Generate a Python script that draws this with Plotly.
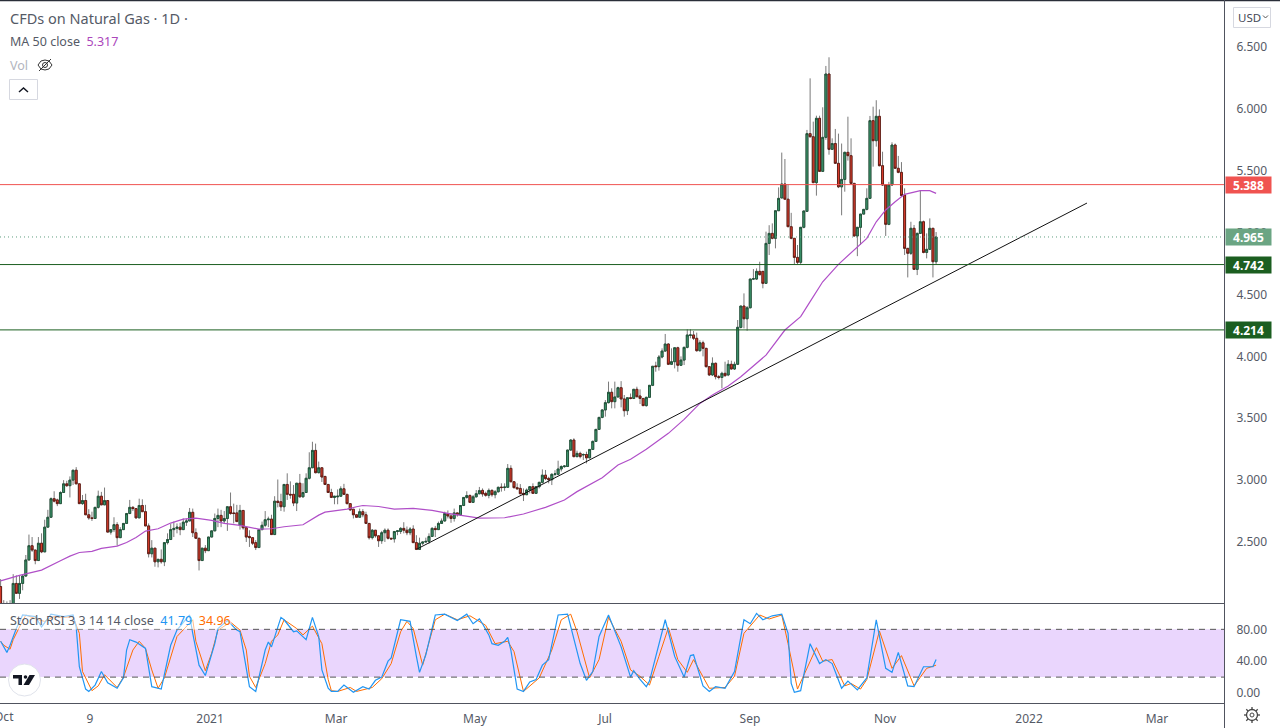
import plotly.graph_objects as go

# ---- daily candles (USD) ----
opens = [2.14,1.96,1.98,1.97,1.95,2.165,2.085,2.165,2.225,2.355,
 2.47,2.435,2.35,2.49,2.42,2.62,2.70,2.85,2.84,2.81,
 2.90,2.97,2.955,3.0,3.08,2.97,2.81,2.835,2.72,2.695,
 2.69,2.78,2.87,2.80,2.835,2.58,2.60,2.64,2.535,2.60,
 2.65,2.73,2.78,2.77,2.695,2.795,2.745,2.63,2.405,2.45,
 2.34,2.36,2.34,2.495,2.52,2.60,2.61,2.62,2.60,2.66,
 2.67,2.74,2.575,2.53,2.35,2.45,2.43,2.54,2.59,2.69,
 2.715,2.67,2.69,2.785,2.735,2.735,2.635,2.755,2.615,2.545,
 2.535,2.495,2.455,2.60,2.635,2.68,2.685,2.56,2.83,2.825,
 2.785,2.965,2.885,2.885,2.815,2.975,2.865,2.90,3.015,3.10,
 3.24,3.06,3.10,3.03,2.965,2.90,2.86,2.865,2.87,2.93,
 2.885,2.81,2.765,2.72,2.70,2.745,2.72,2.65,2.535,2.595,
 2.55,2.51,2.575,2.595,2.53,2.525,2.585,2.585,2.61,2.595,
 2.575,2.605,2.495,2.44,2.49,2.50,2.505,2.545,2.61,2.60,
 2.65,2.67,2.73,2.71,2.69,2.735,2.72,2.795,2.86,2.875,
 2.82,2.865,2.89,2.917,2.893,2.877,2.917,2.882,2.906,2.944,
 2.94,2.942,3.095,2.987,2.939,2.933,2.893,2.882,2.92,2.947,
 2.893,2.947,2.982,3.04,3.014,3.003,3.047,3.047,3.09,3.109,
 3.11,3.243,3.324,3.19,3.216,3.203,3.207,3.18,3.248,3.313,
 3.41,3.507,3.567,3.626,3.71,3.634,3.672,3.747,3.656,3.561,
 3.666,3.66,3.734,3.68,3.66,3.602,3.669,3.766,3.923,3.917,
 3.995,4.043,4.10,3.936,3.957,4.07,3.928,3.97,4.073,4.17,
 4.173,4.146,4.046,4.11,4.065,3.917,3.85,3.944,3.836,3.83,
 3.863,3.85,3.936,3.898,3.936,4.234,4.407,4.304,4.393,4.625,
 4.625,4.687,4.687,4.59,4.913,4.994,4.954,5.177,5.28,5.393,
 5.27,5.048,4.954,4.80,4.76,5.043,5.172,5.80,5.775,5.404,
 5.924,5.495,5.77,6.282,5.673,5.72,5.56,5.37,5.43,5.649,
 5.622,5.398,4.973,5.043,5.15,5.188,5.277,5.905,5.743,5.94,
 5.541,5.385,5.067,5.385,5.708,5.52,5.487,5.304,4.873,4.833,
 5.035,4.703,4.994,5.088,4.84,4.865,5.035,4.765]
highs = [2.2,2.03,2.02,2.03,2.24,2.23,2.23,2.235,2.395,2.56,
 2.54,2.435,2.54,2.57,2.68,2.76,2.86,2.91,2.85,2.91,
 3.0,2.995,3.03,3.08,3.105,2.97,2.88,2.89,2.765,2.745,
 2.78,2.915,2.905,2.94,2.835,2.60,2.70,2.66,2.62,2.65,
 2.735,2.84,2.79,2.77,2.85,2.845,2.80,2.65,2.515,2.45,
 2.36,2.44,2.495,2.57,2.645,2.665,2.65,2.655,2.69,2.69,
 2.775,2.77,2.61,2.53,2.45,2.475,2.54,2.59,2.73,2.77,
 2.76,2.75,2.785,2.90,2.81,2.80,2.80,2.755,2.615,2.595,
 2.54,2.515,2.60,2.665,2.75,2.705,2.72,2.87,3.005,2.89,
 2.965,3.055,2.99,2.96,2.975,3.05,2.975,3.055,3.225,3.31,
 3.295,3.15,3.10,3.03,2.965,2.93,2.87,2.925,2.95,2.97,
 2.885,2.81,2.765,2.72,2.77,2.765,2.745,2.65,2.605,2.595,
 2.55,2.59,2.61,2.61,2.53,2.585,2.595,2.62,2.66,2.625,
 2.62,2.635,2.555,2.535,2.50,2.535,2.57,2.62,2.63,2.665,
 2.69,2.745,2.755,2.73,2.77,2.735,2.795,2.86,2.91,2.885,
 2.88,2.92,2.945,2.933,2.907,2.933,2.925,2.92,2.947,2.974,
 2.974,3.13,3.12,2.987,2.974,2.968,2.933,2.933,2.952,2.974,
 2.947,2.987,3.087,3.082,3.027,3.055,3.08,3.157,3.12,3.12,
 3.243,3.33,3.338,3.238,3.23,3.216,3.23,3.248,3.32,3.41,
 3.507,3.572,3.647,3.796,3.742,3.796,3.755,3.80,3.688,3.666,
 3.70,3.734,3.755,3.734,3.66,3.674,3.766,3.92,3.957,4.011,
 4.065,4.181,4.105,4.065,4.07,4.078,4.0,4.078,4.219,4.219,
 4.205,4.192,4.13,4.127,4.065,3.917,3.992,3.95,3.85,3.876,
 3.957,3.97,3.965,3.957,4.294,4.407,4.509,4.407,4.625,4.706,
 4.711,4.765,4.687,5.008,5.06,5.075,5.177,5.366,5.647,5.595,
 5.39,5.16,4.954,4.90,5.043,5.175,5.83,6.247,5.897,5.945,
 5.945,6.013,6.347,6.417,5.762,5.838,5.80,5.72,5.654,5.937,
 5.762,5.40,5.043,5.15,5.188,5.358,5.943,6.018,6.07,5.996,
 5.654,5.385,5.41,5.73,5.72,5.62,5.57,5.358,4.873,5.088,
 5.062,5.0,5.344,5.097,4.994,5.115,5.035,5.005]
lows = [1.9,1.9,1.9,1.88,1.9,2.08,2.04,2.11,2.22,2.35,
 2.42,2.32,2.35,2.41,2.42,2.62,2.70,2.82,2.79,2.81,
 2.90,2.945,2.86,2.96,2.97,2.81,2.80,2.72,2.68,2.67,
 2.69,2.77,2.80,2.80,2.58,2.56,2.58,2.47,2.535,2.60,
 2.65,2.725,2.75,2.69,2.695,2.745,2.63,2.375,2.375,2.30,
 2.295,2.325,2.305,2.48,2.52,2.54,2.57,2.555,2.60,2.63,
 2.67,2.54,2.53,2.27,2.35,2.41,2.43,2.54,2.59,2.62,
 2.62,2.65,2.59,2.72,2.65,2.665,2.60,2.60,2.50,2.46,
 2.475,2.435,2.455,2.595,2.62,2.62,2.56,2.56,2.78,2.75,
 2.745,2.84,2.85,2.79,2.75,2.86,2.86,2.90,3.005,3.10,
 3.055,3.055,2.985,2.96,2.90,2.855,2.805,2.805,2.865,2.88,
 2.805,2.75,2.69,2.70,2.70,2.70,2.645,2.52,2.52,2.535,
 2.46,2.485,2.50,2.52,2.52,2.495,2.555,2.565,2.57,2.555,
 2.555,2.495,2.435,2.44,2.475,2.495,2.485,2.545,2.54,2.60,
 2.65,2.665,2.69,2.655,2.665,2.705,2.71,2.79,2.85,2.815,
 2.815,2.86,2.885,2.866,2.866,2.853,2.866,2.853,2.90,2.907,
 2.914,2.942,2.982,2.933,2.925,2.888,2.831,2.88,2.893,2.888,
 2.888,2.933,2.974,3.0,2.974,2.96,3.03,3.04,3.07,3.10,
 3.11,3.238,3.184,3.184,3.176,3.163,3.135,3.176,3.243,3.308,
 3.405,3.50,3.513,3.62,3.58,3.58,3.669,3.588,3.513,3.526,
 3.653,3.655,3.669,3.615,3.60,3.594,3.664,3.76,3.876,3.885,
 3.984,4.038,3.93,3.93,3.903,3.876,3.922,3.93,4.065,4.146,
 4.132,4.038,4.038,4.0,3.91,3.841,3.841,3.814,3.814,3.742,
 3.836,3.84,3.895,3.89,3.93,4.226,4.226,4.207,4.388,4.617,
 4.617,4.655,4.55,4.59,4.819,4.946,4.873,5.177,5.28,5.27,
 5.048,4.946,4.746,4.746,4.746,5.035,5.172,5.77,5.40,5.299,
 5.49,5.49,5.75,5.63,5.668,5.555,5.36,5.14,5.331,5.582,
 5.393,4.97,4.81,4.90,5.15,5.18,5.277,5.533,5.695,5.536,
 5.377,4.973,5.06,5.38,5.515,5.48,5.29,4.819,4.638,4.819,
 4.70,4.657,4.989,4.833,4.792,4.86,4.638,4.746]
closes = [1.96,1.98,1.97,1.95,2.165,2.085,2.165,2.225,2.355,2.47,
 2.435,2.35,2.49,2.42,2.62,2.70,2.85,2.83,2.81,2.90,
 2.97,2.955,3.0,3.08,2.97,2.81,2.835,2.72,2.695,2.69,
 2.78,2.87,2.80,2.835,2.58,2.60,2.64,2.535,2.60,2.65,
 2.73,2.78,2.77,2.695,2.795,2.745,2.63,2.405,2.45,2.34,
 2.36,2.34,2.495,2.52,2.60,2.61,2.62,2.60,2.66,2.67,
 2.74,2.575,2.53,2.35,2.45,2.43,2.54,2.59,2.69,2.715,
 2.67,2.69,2.785,2.73,2.73,2.665,2.755,2.615,2.54,2.535,
 2.49,2.455,2.60,2.635,2.68,2.685,2.56,2.83,2.82,2.785,
 2.965,2.885,2.88,2.815,2.975,2.865,2.90,3.015,3.10,3.24,
 3.06,3.10,3.025,2.965,2.90,2.86,2.87,2.87,2.93,2.885,
 2.81,2.76,2.72,2.70,2.745,2.72,2.65,2.535,2.595,2.55,
 2.51,2.575,2.595,2.53,2.525,2.585,2.59,2.61,2.595,2.575,
 2.605,2.495,2.44,2.49,2.50,2.505,2.545,2.61,2.60,2.65,
 2.67,2.73,2.71,2.69,2.735,2.72,2.795,2.86,2.875,2.82,
 2.865,2.89,2.915,2.888,2.877,2.917,2.882,2.906,2.942,2.94,
 2.944,3.095,2.987,2.939,2.93,2.89,2.882,2.92,2.947,2.893,
 2.947,2.982,3.04,3.012,3.003,3.047,3.05,3.09,3.11,3.114,
 3.243,3.324,3.19,3.216,3.19,3.207,3.18,3.248,3.313,3.41,
 3.507,3.567,3.626,3.71,3.634,3.672,3.747,3.656,3.561,3.666,
 3.66,3.734,3.674,3.66,3.602,3.669,3.766,3.92,3.917,3.995,
 4.043,4.10,3.936,3.957,4.07,3.928,3.97,4.073,4.173,4.173,
 4.146,4.046,4.11,4.065,3.917,3.85,3.944,3.836,3.83,3.863,
 3.844,3.936,3.898,3.936,4.235,4.407,4.304,4.393,4.625,4.627,
 4.687,4.66,4.59,4.913,4.994,4.954,5.177,5.277,5.393,5.27,
 5.048,4.954,4.80,4.76,5.043,5.175,5.80,5.775,5.404,5.924,
 5.495,5.77,6.282,5.673,5.72,5.56,5.37,5.43,5.649,5.622,
 5.398,4.973,5.043,5.15,5.188,5.277,5.905,5.743,5.94,5.541,
 5.385,5.067,5.385,5.708,5.52,5.487,5.30,4.873,4.833,5.035,
 4.703,4.994,5.088,4.84,4.865,5.035,4.765,4.965]
bars = list(range(len(closes)))

# ---- 50-day moving average, vertices ----
ma_bar = [0,6,13,16,19,22,25,29,32,37,40,43,46,50,54,58,62,67,71,76,78,82,86,90,96,98,101,103,110,113,115,120,125,131,137,142,148,152,
          160,166,173,179,183,191,196,200,205,212,217,222,226,231,235,243,249,254,257,261,266,272,275,278,281,284,287,292,295,297]
ma_val = [2.186,2.23,2.273,2.313,2.348,2.386,2.415,2.424,2.448,2.467,2.496,2.537,2.588,2.607,2.653,2.685,2.693,2.674,2.65,2.634,2.623,2.604,2.607,2.623,2.639,2.671,2.717,2.741,2.766,2.785,2.795,2.787,2.766,2.771,2.755,2.731,2.709,2.693,
          2.696,2.726,2.78,2.839,2.907,3.02,3.122,3.168,3.249,3.378,3.491,3.62,3.688,3.761,3.836,4.01,4.213,4.321,4.442,4.603,4.744,4.881,4.954,5.088,5.183,5.25,5.309,5.339,5.339,5.317]

# ---- Stoch RSI, vertices ----
k_bar = [0,2,3,5,7,11,13,16,20,23,24,25,27,28,30,32,34,37,39,40,41,43,46,48,51,53,54,56,60,61,63,65,68,69,72,75,76,79,81,84,85,86,89,90,93,94,97,99,101,
         102,104,105,107,109,112,115,117,119,121,123,124,127,130,132,133,135,138,141,145,148,150,152,153,155,156,158,160,161,162,164,166,168,170,172,174,177,180,184,186,188,190,193,195,197,200,201,203,
         205,206,209,211,214,217,219,220,223,225,227,230,233,236,238,240,242,245,248,250,251,252,254,257,260,262,264,267,269,272,275,278,281,283,285,288,290,293,296,297]
k_val = [65,51,60,81,98,96,83,99,96,98,83,33,5,2,10,27,13,6,19,54,67,64,56,8,5,42,60,79,98,75,35,22,62,81,91,79,77,8,2,54,64,58,95,92,77,78,67,95,71,
         29,6,2,2,10,1,8,5,16,20,40,44,92,90,46,26,48,98,99,91,99,87,93,87,73,62,60,65,70,54,5,2,14,17,35,42,98,99,37,16,27,71,98,77,58,20,28,17,
         8,15,62,92,46,20,47,48,9,2,8,6,27,92,87,100,92,97,99,75,12,1,3,62,37,42,37,6,15,4,19,92,31,26,51,9,8,33,33,42]
d_bar = [0,1,3,4,6,8,12,14,17,20,23,25,26,29,31,33,37,39,42,44,46,48,50,52,56,59,61,62,65,67,69,73,76,78,79,81,84,86,88,90,94,96,99,
         102,104,105,107,111,113,118,121,124,127,129,131,134,135,138,141,145,149,154,157,161,163,166,171,175,178,181,183,187,190,193,197,200,203,
         206,209,212,215,218,220,225,230,233,236,241,244,248,250,253,259,261,264,268,270,273,275,279,283,286,290,294,297]
d_val = [65,60,55,67,83,98,92,90,96,95,96,75,27,3,9,23,7,20,54,65,56,29,6,19,71,83,92,65,28,50,79,89,79,54,21,7,37,65,73,92,81,73,84,
         62,17,3,2,7,2,7,18,37,77,90,81,35,50,92,99,92,97,85,62,65,52,2,19,54,92,99,77,19,42,95,65,29,21,
         10,46,82,42,26,42,6,7,21,75,98,93,98,62,5,57,40,42,9,12,5,17,78,31,47,9,31,35]

# ---- drawn trend line and horizontal levels ----
trend_bar = [132.2, 344.9]
trend_val = [2.443, 5.239]
level_vals = [5.388, 4.742, 4.214]
level_colors = ["#f05350", "#1b5e20", "#1b5e20"]
last_price = 4.965

tick_bars = [28.4, 66.5, 106.5, 150.6, 191.9, 237.9, 280.8, 326.5, 367.1]
tick_text = ["9", "2021", "Mar", "May", "Jul", "Sep", "Nov", "2022", "Mar"]
price_ticks = [2.5, 3, 3.5, 4, 4.5, 5, 5.5, 6, 6.5]
stoch_ticks = [0, 40, 80]

W, H = 1280, 728
FONT = "Noto Sans"
TXT = "#555a66"
px = lambda x: x / W
py = lambda y: 1 - y / H

fig = go.Figure()
# wicks underneath
fig.add_trace(go.Candlestick(x=bars, open=opens, high=highs, low=lows, close=closes, whiskerwidth=0,
    increasing=dict(line=dict(color="#7a7a7a", width=1), fillcolor="rgba(0,0,0,0)"),
    decreasing=dict(line=dict(color="#7a7a7a", width=1), fillcolor="rgba(0,0,0,0)"),
    xaxis="x", yaxis="y", showlegend=False, hoverinfo="skip"))
# bodies on top
fig.add_trace(go.Candlestick(x=bars, open=opens, close=closes,
    high=[max(a, b) for a, b in zip(opens, closes)], low=[min(a, b) for a, b in zip(opens, closes)], whiskerwidth=0,
    increasing=dict(line=dict(color="#1d4f36", width=0.9), fillcolor="#3f9a70"),
    decreasing=dict(line=dict(color="#5e1a12", width=0.9), fillcolor="#e03e2d"),
    xaxis="x", yaxis="y", showlegend=False, hoverinfo="skip"))
fig.add_trace(go.Scatter(x=ma_bar, y=ma_val, mode="lines", line=dict(color="#b04fc8", width=1.2), xaxis="x", yaxis="y", showlegend=False, hoverinfo="skip"))
fig.add_trace(go.Scatter(x=trend_bar, y=trend_val, mode="lines", line=dict(color="#111111", width=1), xaxis="x", yaxis="y", showlegend=False, hoverinfo="skip"))
fig.add_trace(go.Scatter(x=d_bar, y=d_val, mode="lines", line=dict(color="#ff6d00", width=1), xaxis="x2", yaxis="y2", showlegend=False, hoverinfo="skip"))
fig.add_trace(go.Scatter(x=k_bar, y=k_val, mode="lines", line=dict(color="#2196f3", width=1.2), xaxis="x2", yaxis="y2", showlegend=False, hoverinfo="skip"))

shapes = []
# horizontal levels
for v, c in zip(level_vals, level_colors):
    shapes.append(dict(type="line", xref="x domain", x0=0, x1=1, yref="y", y0=v, y1=v, line=dict(color=c, width=1)))
shapes.append(dict(type="line", xref="x domain", x0=0, x1=1, yref="y", y0=last_price, y1=last_price, line=dict(color="#5f9e7f", width=1, dash="1px,3px")))
# stoch band
shapes.append(dict(type="rect", xref="x2 domain", x0=0, x1=1, yref="y2", y0=20, y1=80, fillcolor="rgba(190,130,250,0.33)", line=dict(width=0), layer="below"))
for v in (20, 80):
    shapes.append(dict(type="line", xref="x2 domain", x0=0, x1=1, yref="y2", y0=v, y1=v, line=dict(color="#555555", width=1, dash="6px,5px")))

def pline(x0, y0, x1, y1, c="#50535e", w=1):
    return dict(type="line", xref="paper", yref="paper", x0=px(x0), x1=px(x1), y0=py(y0), y1=py(y1), line=dict(color=c, width=w))

def ppath(points, close=False, fill=None, c="#333333", w=1):
    d = "M" + " L".join(f"{px(a):.5f},{py(b):.5f}" for a, b in points) + (" Z" if close else "")
    return dict(type="path", xref="paper", yref="paper", path=d, fillcolor=fill or "rgba(0,0,0,0)", line=dict(color=c, width=w))

def pbox(x0, y0, x1, y1, fill="white", c="#d6d8e0", w=1):
    return dict(type="rect", xref="paper", yref="paper", x0=px(x0), x1=px(x1), y0=py(y1), y1=py(y0), fillcolor=fill, line=dict(color=c, width=w))

def pcircle(cx, cy, r, fill="white", c="#e0e3eb", w=1):
    return dict(type="circle", xref="paper", yref="paper", x0=px(cx - r), x1=px(cx + r), y0=py(cy + r), y1=py(cy - r), fillcolor=fill, line=dict(color=c, width=w))

# frame
shapes += [pline(0, 0.5, 1280, 0.5, "#2a2e39", 1.5), pline(1224.5, 0, 1224.5, 728), pline(0, 603.5, 1224.5, 603.5), pline(0, 703.5, 1224.5, 703.5)]
# collapse button
shapes += [pbox(9.5, 79.5, 37.5, 99.5), ppath([(19, 92), (23.5, 88), (28, 92)], c="#131722", w=1.5)]
# eye icon
shapes += [ppath([(38, 65), (41, 61), (45, 60), (49, 61), (52, 65), (49, 69), (45, 70), (41, 69)], close=True, c="#333333", w=1),
           pcircle(45, 65, 2.5, fill="rgba(0,0,0,0)", c="#333333"), pline(39, 71, 51, 59, "#333333", 1)]
# USD button
shapes += [pbox(1233.5, 7.5, 1270.5, 27.5), ppath([(1263, 15.5), (1265.5, 18), (1268, 15.5)], c="#555555", w=1)]
# TradingView mark
shapes += [pcircle(24.5, 680, 16),
           ppath([(13, 675), (22, 675), (22, 685), (18.5, 685), (18.5, 678.5), (13, 678.5)], close=True, fill="#131722", c="#131722", w=0),
           pcircle(25.5, 677, 1.8, fill="#131722", c="#131722", w=0),
           ppath([(29.5, 675), (35, 675), (29, 685), (23.5, 685)], close=True, fill="#131722", c="#131722", w=0)]
# settings gear
shapes += [pcircle(1252, 715, 5.5, fill="white", c="#444444", w=1.3), pcircle(1252, 715, 2, fill="white", c="#444444", w=1)]
for a, b, c_, d in [(1252, 707, 1252, 709.5), (1252, 720.5, 1252, 723), (1244, 715, 1246.5, 715), (1257.5, 715, 1260, 715),
                    (1246.3, 709.3, 1248.1, 711.1), (1255.9, 718.9, 1257.7, 720.7), (1246.3, 720.7, 1248.1, 718.9), (1255.9, 711.1, 1257.7, 709.3)]:
    shapes.append(pline(a, b, c_, d, "#444444", 1.3))

def label(text, x, y, size=12, color=TXT, anchor="left", bg=None):
    return dict(text=text, xref="paper", yref="paper", x=px(x), y=py(y), xanchor=anchor, yanchor="middle", showarrow=False,
                font=dict(family=FONT, size=size, color=color), bgcolor=bg, borderpad=0)

annos = [
    label("CFDs on Natural Gas · 1D ·", 9, 18, 14.5),
    label('MA 50 close  <span style="color:#ab47bc">5.317</span>', 9, 41, 12.5),
    label("Vol", 9, 65, 12.5, "#b2b5be"),
    label("USD", 1237, 17, 11.5, "#444a58"),
    label('Stoch RSI 3 3 14 14 close  <span style="color:#2196f3">41.79</span>  <span style="color:#ff6d00">34.96</span>', 9, 620.5, 12.5, TXT, bg="rgba(255,255,255,0.55)"),
    label("Oct", 4, 716, 12, TXT, anchor="center"),
]
boxes = [(level_vals[0], "#f05350"), (last_price, "#6ba583"), (level_vals[1], "#1b5e20"), (level_vals[2], "#1b5e20")]
for v, c in boxes:
    annos.append(dict(text=f"<b>{v:.3f}</b>", xref="paper", yref="y", x=px(1225), y=v, xanchor="left", yanchor="middle", showarrow=False,
                      font=dict(family=FONT, size=12, color="white"), bgcolor=c, width=45, height=16, align="center", borderpad=0))

x_range = [-0.19, 388.4]
fig.update_layout(
    width=W, height=H, margin=dict(l=0, r=0, t=0, b=0), paper_bgcolor="white", plot_bgcolor="white",
    showlegend=False, shapes=shapes, annotations=annos, hovermode=False, autosize=False, boxgap=0.12,
    font=dict(family=FONT, size=12, color=TXT),
    xaxis=dict(domain=[0, 1224 / W], range=x_range, showticklabels=False, showgrid=False, zeroline=False, anchor="y", rangeslider=dict(visible=False), showline=False, ticks=""),
    yaxis=dict(domain=[py(603), 1], range=[2.007, 6.880], side="right", anchor="x", tickvals=price_ticks, tickformat=".3f", showgrid=False, zeroline=False,
               showline=False, ticks="outside", ticklen=9, tickcolor="rgba(0,0,0,0)", tickfont=dict(family=FONT, size=12, color=TXT)),
    xaxis2=dict(domain=[0, 1224 / W], range=x_range, tickmode="array", tickvals=tick_bars, ticktext=tick_text, showgrid=False, zeroline=False, anchor="y2",
                showline=False, ticks="outside", ticklen=5, tickcolor="rgba(0,0,0,0)", tickfont=dict(family=FONT, size=12, color=TXT)),
    yaxis2=dict(domain=[py(703), py(604)], range=[-12.5, 111.8], side="right", anchor="x2", tickvals=stoch_ticks, tickformat=".2f", showgrid=False, zeroline=False,
                showline=False, ticks="outside", ticklen=9, tickcolor="rgba(0,0,0,0)", tickfont=dict(family=FONT, size=12, color=TXT)),
)
fig.write_html("out.html", config=dict(displayModeBar=False),
               post_script="document.body.style.margin='0';document.documentElement.style.overflow='hidden';")
